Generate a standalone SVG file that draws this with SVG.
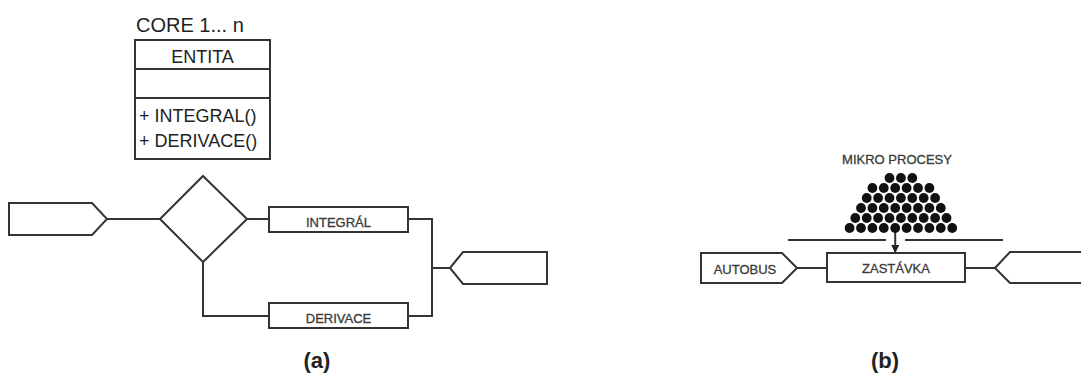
<svg xmlns="http://www.w3.org/2000/svg" width="1081" height="375" viewBox="0 0 1081 375">
  <style>
    .shape { fill: #ffffff; stroke: #333333; stroke-width: 2; stroke-linejoin: miter; }
    .wire { fill: none; stroke: #333333; stroke-width: 2; }
    .uml { font-family: "Liberation Sans", Arial, sans-serif; font-size: 18px; fill: #222222; }
    .lbl { font-family: "Liberation Sans", Arial, sans-serif; font-size: 13px; fill: #3a3a3a; stroke: #3a3a3a; stroke-width: 0.3; text-anchor: middle; }
    .cap { font-family: "Liberation Sans", Arial, sans-serif; font-size: 22px; font-weight: bold; fill: #222222; text-anchor: middle; }
    .dot { fill: #111111; }
  </style>
  <defs>
    <marker id="arrowhead" viewBox="0 0 10 10" refX="10" refY="5" markerWidth="8" markerHeight="8" markerUnits="userSpaceOnUse" orient="auto">
      <path d="M0,0 L10,5 L0,10 Z" fill="#222222"/>
    </marker>
    <circle id="d" r="4.9" class="dot"/>
  </defs>
  <rect width="1081" height="375" fill="#ffffff"/>

  <!-- (a) -->
  <g id="core-label">
    <text x="136" y="32" class="uml" style="font-size:20px">CORE 1... n</text>
  </g>
  <g id="entita">
    <rect x="135" y="40" width="135" height="119" class="shape"/>
    <line x1="135" y1="69" x2="270" y2="69" class="wire"/>
    <line x1="135" y1="98" x2="270" y2="98" class="wire"/>
    <text x="202.5" y="63" class="uml" text-anchor="middle">ENTITA</text>
    <text x="139" y="122" class="uml">+ INTEGRAL()</text>
    <text x="139" y="147" class="uml">+ DERIVACE()</text>
  </g>

  <g id="connectors">
    <line x1="107" y1="219" x2="160" y2="219" class="wire"/>
    <line x1="247" y1="219" x2="269" y2="219" class="wire"/>
    <polyline points="203,262 203,316 269,316" class="wire"/>
    <polyline points="408,219 432,219 432,316 408,316" class="wire"/>
    <line x1="432" y1="268" x2="450" y2="268" class="wire"/>
    <line x1="797" y1="268" x2="827" y2="268" class="wire"/>
    <line x1="965" y1="268" x2="995" y2="268" class="wire"/>
    <line x1="788" y1="240" x2="886" y2="240" class="wire"/>
    <line x1="905" y1="240" x2="1003" y2="240" class="wire"/>
    <line x1="895.2" y1="230" x2="895.2" y2="253" class="wire" stroke-width="1.6" marker-end="url(#arrowhead)"/>
  </g>

  <g id="input-a">
    <polygon points="9,203 92,203 107,219 92,235 9,235" class="shape"/>
  </g>
  <g id="decision">
    <polygon points="203,176 247,219 203,262 160,219" class="shape"/>
  </g>
  <g id="integral">
    <rect x="269" y="207" width="139" height="25" class="shape"/>
    <text x="338.5" y="227" class="lbl">INTEGRÁL</text>
  </g>
  <g id="derivace">
    <rect x="269" y="303" width="139" height="25" class="shape"/>
    <text x="338.5" y="323" class="lbl">DERIVACE</text>
  </g>
  <g id="output-a">
    <polygon points="450,268 463,252 547,252 547,284 463,284" class="shape"/>
  </g>
  <text x="317" y="368" class="cap">(a)</text>

  <!-- (b) -->
  <g id="mikro-procesy">
    <text x="897" y="164" class="lbl">MIKRO PROCESY</text>
    <!-- dome of particles, staggered rows 11.4 px apart -->
    <g id="particles">
      <use href="#d" x="889.5" y="178"/><use href="#d" x="900.9" y="178"/><use href="#d" x="912.3" y="178"/>
      <use href="#d" x="872.4" y="188"/><use href="#d" x="883.8" y="188"/><use href="#d" x="895.2" y="188"/><use href="#d" x="906.6" y="188"/><use href="#d" x="918" y="188"/><use href="#d" x="929.4" y="188"/>
      <use href="#d" x="866.7" y="198"/><use href="#d" x="878.1" y="198"/><use href="#d" x="889.5" y="198"/><use href="#d" x="900.9" y="198"/><use href="#d" x="912.3" y="198"/><use href="#d" x="923.7" y="198"/><use href="#d" x="935.1" y="198"/>
      <use href="#d" x="861" y="208"/><use href="#d" x="872.4" y="208"/><use href="#d" x="883.8" y="208"/><use href="#d" x="895.2" y="208"/><use href="#d" x="906.6" y="208"/><use href="#d" x="918" y="208"/><use href="#d" x="929.4" y="208"/><use href="#d" x="940.8" y="208"/>
      <use href="#d" x="855.3" y="218"/><use href="#d" x="866.7" y="218"/><use href="#d" x="878.1" y="218"/><use href="#d" x="889.5" y="218"/><use href="#d" x="900.9" y="218"/><use href="#d" x="912.3" y="218"/><use href="#d" x="923.7" y="218"/><use href="#d" x="935.1" y="218"/><use href="#d" x="946.5" y="218"/>
      <use href="#d" x="849.6" y="228"/><use href="#d" x="861" y="228"/><use href="#d" x="872.4" y="228"/><use href="#d" x="883.8" y="228"/><use href="#d" x="895.2" y="228"/><use href="#d" x="906.6" y="228"/><use href="#d" x="918" y="228"/><use href="#d" x="929.4" y="228"/><use href="#d" x="940.8" y="228"/><use href="#d" x="952.2" y="228"/>
    </g>
  </g>
  <g id="autobus">
    <polygon points="701,253 782,253 797,268 782,283 701,283" class="shape"/>
    <text x="745" y="274" class="lbl">AUTOBUS</text>
  </g>
  <g id="zastavka">
    <rect x="827" y="253" width="138" height="29" class="shape"/>
    <text x="896" y="273" class="lbl">ZASTÁVKA</text>
  </g>
  <g id="output-b">
    <polygon points="995,268 1010,252 1090,252 1090,283 1010,283" class="shape"/>
  </g>
  <text x="885" y="368" class="cap">(b)</text>
</svg>
